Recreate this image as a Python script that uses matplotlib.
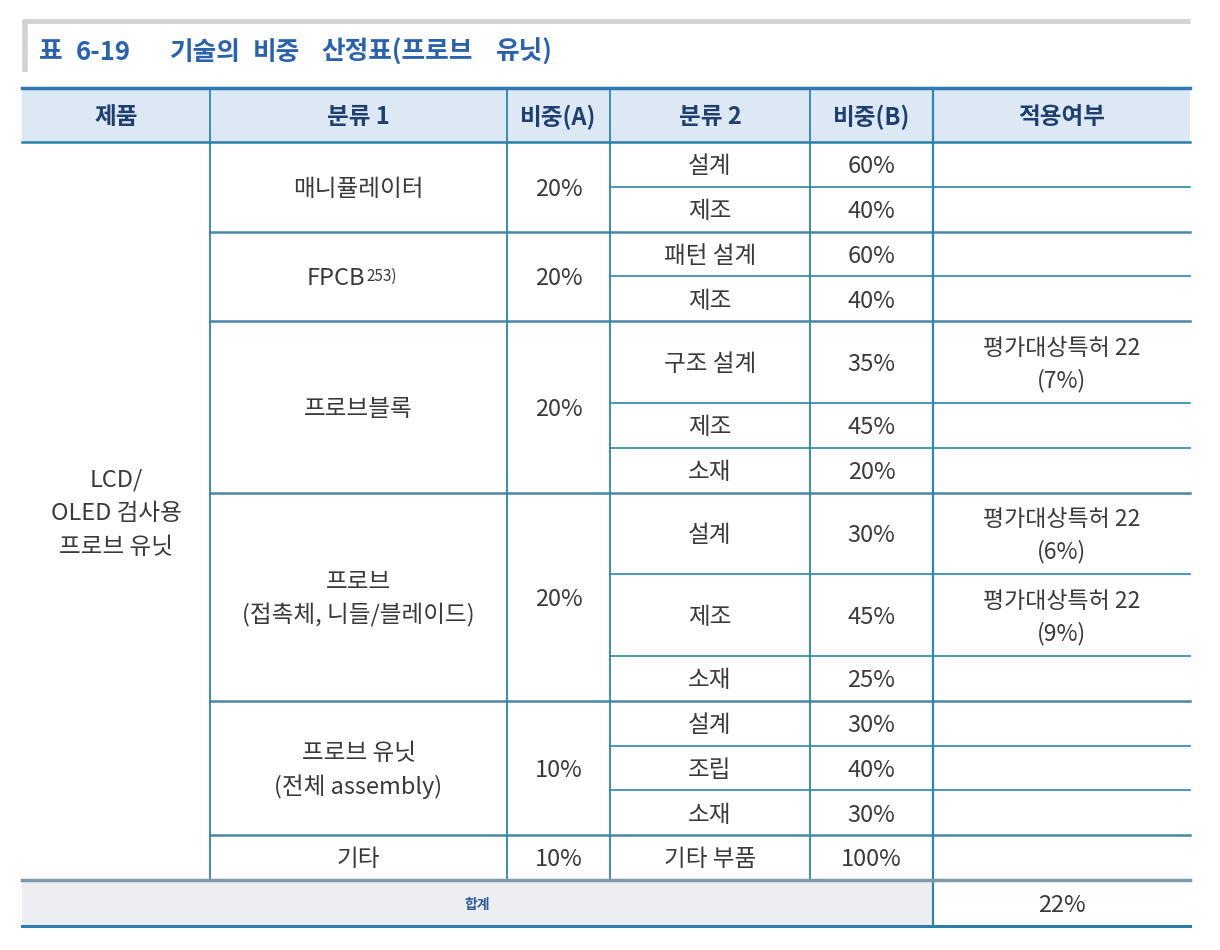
import matplotlib
matplotlib.use('Agg')
import matplotlib.pyplot as plt
from matplotlib.patches import Rectangle

plt.rcParams['font.family'] = ['Noto Sans CJK KR', 'DejaVu Sans']

# table content
title_words = ['표', '6-19', '기술의', '비중', '산정표(프로브', '유닛)']
headers = ['제품', '분류 1', '비중(A)', '분류 2', '비중(B)', '적용여부']
product = 'LCD/\nOLED 검사용\n프로브 유닛'
cat1 = ['매니퓰레이터', 'FPCB', '프로브블록', '프로브\n(접촉체, 니들/블레이드)',
        '프로브 유닛\n(전체 assembly)', '기타']
cat1_note = ['', '253)', '', '', '', '']
weight_a = ['20%', '20%', '20%', '20%', '10%', '10%']
group_sizes = [2, 2, 3, 3, 3, 1]
cat2 = ['설계', '제조', '패턴 설계', '제조', '구조 설계', '제조', '소재',
        '설계', '제조', '소재', '설계', '조립', '소재', '기타 부품']
weight_b = ['60%', '40%', '60%', '40%', '35%', '45%', '20%',
            '30%', '45%', '25%', '30%', '40%', '30%', '100%']
applied = ['', '', '', '', '평가대상특허 22\n(7%)', '', '',
           '평가대상특허 22\n(6%)', '평가대상특허 22\n(9%)', '', '', '', '', '']
total_label = '합계'
total_value = '22%'

# layout (pixels)
title_x = [51, 103, 205, 276, 397, 524]   # word centres
cols = [22, 210, 507, 610, 810, 933, 1190]
y_head = 88
y_body = 142
h_single = 44.8
h_double = 81.7
h_total = 46
dy = 2.5   # text baseline nudge
fs = 17

line_c = '#2b86ad'
text_c = '#3a3a3a'
head_c = '#1f3f6e'
title_c = '#2a62ae'

fig = plt.figure(figsize=(12.2, 9.5), dpi=100)
ax = fig.add_axes([0, 0, 1, 1])
ax.set_xlim(0, 1220)
ax.set_ylim(950, 0)
ax.axis('off')


def cell_text(x, y, s, **kw):
    opts = dict(fontsize=fs, color=text_c, ha='center', va='center', linespacing=1.5)
    opts.update(kw)
    ax.text(x, y + dy, s, **opts)


# title bar
ax.plot([22, 1190], [21, 21], color='#d2d2d2', lw=3.5, solid_capstyle='butt')
ax.plot([24.5, 24.5], [21, 72], color='#d2d2d2', lw=4, solid_capstyle='butt')
for w, x in zip(title_words, title_x):
    ax.text(x, 52, w, fontsize=18.5, fontweight='bold', color=title_c, va='center', ha='center')

# header row
ax.add_patch(Rectangle((cols[0], y_head), cols[-1] - cols[0], y_body - y_head,
                       facecolor='#dce8f4', edgecolor='none'))
for i, h in enumerate(headers):
    xc = (cols[i] + cols[i + 1]) / 2
    cell_text(xc, (y_head + y_body) / 2, h, fontsize=17, fontweight='bold', color=head_c)

# row heights from the content
heights = [h_double if '\n' in a else h_single for a in applied]
ys = [y_body]
for h in heights:
    ys.append(ys[-1] + h)
y_end = ys[-1]

# sub rows (분류 2, 비중(B), 적용여부)
for i in range(len(cat2)):
    yc = (ys[i] + ys[i + 1]) / 2
    cell_text((cols[3] + cols[4]) / 2, yc, cat2[i])
    cell_text((cols[4] + cols[5]) / 2, yc, weight_b[i])
    if applied[i]:
        cell_text((cols[5] + cols[6]) / 2, yc, applied[i], fontsize=16.5)

# groups (분류 1, 비중(A))
start = 0
group_bounds = []
for g, n in enumerate(group_sizes):
    y0, y1 = ys[start], ys[start + n]
    yc = (y0 + y1) / 2
    xc = (cols[1] + cols[2]) / 2
    if cat1_note[g]:
        cell_text(xc + 7, yc, cat1[g], ha='right')
        cell_text(xc + 8, yc - 3, cat1_note[g], ha='left', fontsize=11)
    else:
        cell_text(xc, yc, cat1[g])
    cell_text((cols[2] + cols[3]) / 2, yc, weight_a[g])
    group_bounds.append(y1)
    for k in range(start + 1, start + n):
        ax.plot([cols[3], cols[6]], [ys[k], ys[k]], color=line_c, lw=1.2)
    start += n

for yb in group_bounds[:-1]:
    ax.plot([cols[1], cols[6]], [yb, yb], color='#4a87a8', lw=1.8)

# product column
cell_text((cols[0] + cols[1]) / 2, (y_body + y_end) / 2, product, linespacing=1.6)

# total row
y_tot = y_end + h_total
ax.add_patch(Rectangle((cols[0], y_end), cols[5] - cols[0], h_total, facecolor='#eceef1', edgecolor='none'))
cell_text((cols[0] + cols[5]) / 2, y_end + h_total / 2, total_label, fontsize=10,
          fontweight='bold', color='#2a5a9a')
cell_text((cols[5] + cols[6]) / 2, y_end + h_total / 2, total_value)

# vertical lines
for x in cols[1:5]:
    ax.plot([x, x], [y_head, y_end], color=line_c, lw=1.3)
ax.plot([cols[5], cols[5]], [y_head, y_tot], color=line_c, lw=1.6)

# main horizontal lines
ax.plot([cols[0], cols[6]], [y_head, y_head], color='#2f78b0', lw=2.5)
ax.plot([cols[0], cols[6]], [y_body, y_body], color='#2b7fa8', lw=1.8)
ax.plot([cols[0], cols[6]], [y_end, y_end], color='#7f98a8', lw=2.5)
ax.plot([cols[0], cols[6]], [y_tot, y_tot], color='#2b7fa8', lw=2.2)

fig.savefig('out.png', dpi=100)
